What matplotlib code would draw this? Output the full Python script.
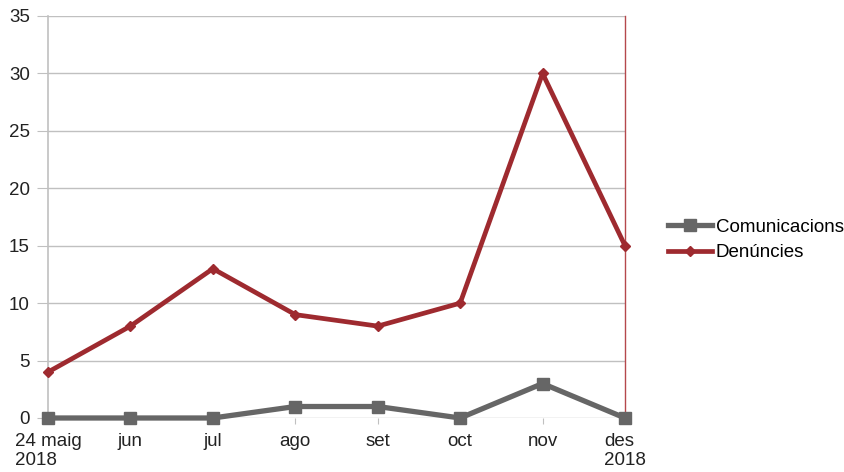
import matplotlib
matplotlib.use("Agg")
import matplotlib.pyplot as plt

plt.rcParams['font.family'] = ['Liberation Sans', 'DejaVu Sans']

categories = ["24 maig\n2018", "jun", "jul", "ago", "set", "oct", "nov", "des\n2018"]
comunicacions = [0, 0, 0, 1, 1, 0, 3, 0]
denuncies = [4, 8, 13, 9, 8, 10, 30, 15]
yticks = [0, 5, 10, 15, 20, 25, 30, 35]

gray = "#666666"
red = "#9E2A2F"
fs = 13.5

fig = plt.figure(figsize=(8.45, 4.72), dpi=100)
ax = fig.add_axes([48/845, 1-418/472, (625-48)/845, (418-16)/472])

x = list(range(len(categories)))
ax.plot(x, comunicacions, color=gray, lw=3.8, marker='s', ms=8.5, label="Comunicacions", clip_on=False, zorder=3)
ax.plot(x, denuncies, color=red, lw=3.4, marker='D', ms=5, label="Denúncies", clip_on=False, zorder=4)

ax.set_xlim(0, len(categories)-1)
ax.set_ylim(0, 35)
ax.set_yticks(yticks)
ax.set_xticks(x)
ax.set_xticklabels(categories, multialignment='left', linespacing=1.15)
ax.yaxis.grid(True, color="#c0c0c0", lw=1)
ax.set_axisbelow(True)
for s in ['top', 'bottom']:
    ax.spines[s].set_visible(False)
ax.spines['left'].set_color("#c0c0c0")
ax.spines['left'].set_linewidth(1.2)
ax.spines['right'].set_color("#b5484c")
ax.spines['right'].set_linewidth(1)
ax.tick_params(axis='y', length=8, color="#c0c0c0", labelsize=fs, pad=5, labelcolor="#222222")
ax.tick_params(axis='x', length=4, color="#c0c0c0", labelsize=fs, pad=6.5, labelcolor="#222222")

leg = fig.legend(loc='center left', bbox_to_anchor=(651/845, 1-240/472), frameon=False,
                 fontsize=fs, handlelength=2.35, handletextpad=0.2, labelspacing=0.45)

fig.savefig("out.png", dpi=100)
